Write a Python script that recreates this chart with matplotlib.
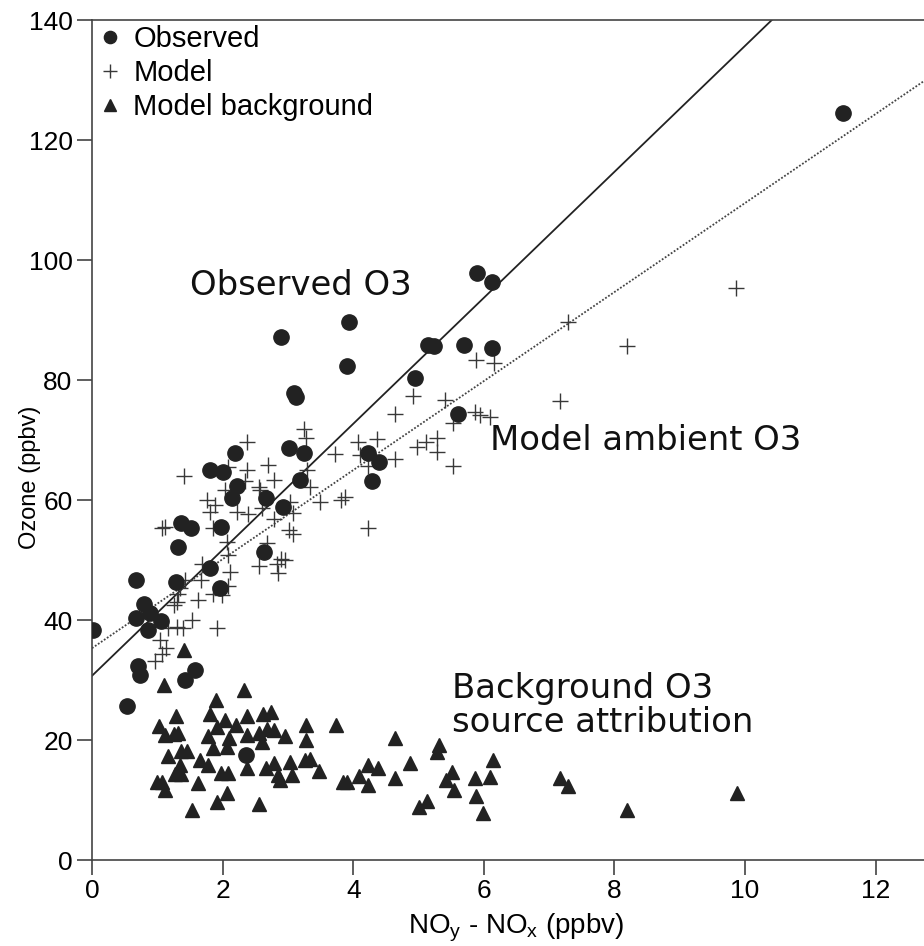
import matplotlib
matplotlib.use('Agg')
import matplotlib.pyplot as plt
import numpy as np

# Observed ozone vs NOy-NOx (ppbv)
obs_x = [0.02, 0.53, 0.68, 0.71, 0.74, 0.79, 0.89, 0.68, 1.06, 0.86,
         1.29, 1.31, 1.37, 1.52, 1.42, 1.58, 1.81, 1.81, 1.96, 1.98,
         2.01, 2.14, 2.19, 2.22, 2.36, 2.64, 2.66, 2.90, 2.93, 3.01,
         3.09, 3.13, 3.19, 3.24, 3.90, 3.94, 4.23, 4.28, 4.40, 4.95,
         5.15, 5.24, 5.61, 5.69, 5.90, 6.12, 6.12, 11.5]
obs_y = [38.4, 25.6, 46.7, 32.3, 30.9, 42.6, 41.1, 40.3, 39.8, 38.4,
         46.4, 52.1, 56.1, 55.3, 30.0, 31.7, 48.6, 65.0, 45.3, 55.5,
         64.6, 60.4, 67.9, 62.4, 17.5, 51.4, 60.4, 87.1, 58.8, 68.7,
         77.8, 77.2, 63.3, 67.8, 82.4, 89.7, 67.9, 63.2, 66.4, 80.4,
         85.8, 85.7, 74.3, 85.9, 97.8, 96.4, 85.4, 124.5]

# Model ambient ozone
mod_x = [0.97, 1.07, 1.14, 1.04, 1.17, 1.30, 1.40, 1.91, 1.53, 1.26,
         1.30, 1.32, 1.63, 1.86, 1.99, 2.09, 1.42, 1.35, 1.67, 2.11,
         1.68, 2.55, 2.83, 2.90, 2.96, 2.85, 2.09, 2.06, 2.68, 1.07,
         1.12, 1.86, 3.01, 3.08, 2.78, 1.81, 2.22, 2.39, 2.60, 3.08,
         1.88, 1.76, 3.03, 3.49, 3.82, 3.87, 2.03, 2.55, 2.57, 3.34,
         2.34, 2.78, 1.41, 2.09, 2.37, 2.69, 3.29, 4.23, 5.53, 4.64,
         3.72, 4.10, 5.28, 4.97, 2.37, 4.08, 4.37, 5.12, 5.28, 3.27,
         3.24, 5.53, 6.09, 5.94, 5.87, 4.64, 5.41, 4.91, 7.16, 5.88,
         6.15, 8.19, 7.29, 9.86, 4.23]
mod_y = [33.2, 34.4, 35.3, 36.7, 38.6, 38.9, 38.6, 38.6, 40.0, 42.5,
         43.0, 44.4, 43.3, 44.4, 44.2, 45.6, 46.7, 45.3, 46.7, 48.0,
         49.4, 49.0, 49.4, 50.1, 50.0, 47.8, 50.8, 53.0, 52.9, 55.3,
         55.5, 55.3, 55.0, 54.4, 56.9, 58.0, 58.0, 57.6, 58.6, 57.8,
         59.2, 60.0, 59.7, 59.7, 60.0, 60.5, 61.7, 62.2, 61.7, 62.2,
         63.2, 63.3, 64.0, 65.5, 65.0, 65.8, 65.0, 65.6, 65.7, 66.9,
         67.7, 67.5, 68.0, 68.9, 69.6, 69.7, 70.2, 69.7, 70.3, 70.4,
         71.9, 72.8, 73.9, 74.2, 74.7, 74.3, 76.7, 77.3, 76.5, 83.4,
         82.8, 85.6, 89.7, 95.4, 55.3]

# Model background ozone (source attribution)
bg_x = [1.41, 1.10, 2.32, 1.90, 1.29, 1.81, 2.04, 2.37, 2.62, 2.74,
        3.28, 3.73, 4.64, 1.02, 1.12, 1.25, 1.32, 1.91, 1.78, 2.21,
        2.10, 2.07, 2.37, 2.55, 2.60, 2.68, 2.78, 2.95, 3.28, 1.86,
        1.37, 1.46, 1.17, 1.35, 1.37, 1.27, 1.65, 1.78, 1.98, 2.09,
        2.37, 2.67, 2.78, 2.85, 2.88, 3.03, 3.06, 3.26, 3.34, 3.48,
        3.84, 3.90, 4.09, 4.23, 4.38, 4.23, 4.64, 4.87, 0.99, 1.07,
        1.12, 1.62, 2.06, 1.91, 1.53, 2.55, 5.32, 5.29, 6.14, 5.52,
        5.42, 5.87, 6.10, 5.54, 5.88, 5.13, 5.00, 5.99, 7.17, 7.29,
        8.19, 9.87]
bg_y = [35.0, 29.2, 28.3, 26.7, 24.0, 24.3, 23.4, 24.0, 24.3, 24.6,
        22.5, 22.5, 20.4, 22.3, 20.8, 21.0, 21.1, 22.2, 20.7, 22.5,
        20.4, 18.9, 20.8, 21.2, 19.7, 21.9, 21.7, 20.7, 20.0, 18.6,
        18.2, 18.2, 17.3, 15.8, 14.4, 14.4, 16.7, 15.8, 14.5, 14.5,
        15.3, 15.3, 16.1, 14.2, 13.3, 16.4, 14.2, 16.7, 16.8, 14.9,
        13.0, 13.0, 14.0, 15.8, 15.3, 12.5, 13.6, 16.1, 13.0, 13.0,
        11.7, 12.9, 11.1, 9.6, 8.4, 9.4, 19.2, 18.0, 16.7, 14.7,
        13.4, 13.7, 13.9, 11.6, 10.7, 9.8, 8.9, 7.8, 13.6, 12.3,
        8.4, 11.1]

# regression lines (intercept, slope)
fit_obs = (30.7, 10.5)
fit_mod = (35.3, 7.42)

plt.rcParams['font.family'] = ['Liberation Sans', 'DejaVu Sans']

fig = plt.figure(figsize=(9.24, 9.46), dpi=100)
ax = fig.add_axes([92 / 924, 86 / 946, 849 / 924, 840 / 946])

XMAX = 13.0
xx = np.array([0, XMAX])
ax.plot(xx, fit_obs[0] + fit_obs[1] * xx, color='#222222', lw=1.3, zorder=2)
ax.plot(xx, fit_mod[0] + fit_mod[1] * xx, color='#444444', lw=1.3,
        ls=(0, (1, 1)), zorder=2)

ax.plot(mod_x, mod_y, ls='none', marker='+', ms=12, mew=1.0,
        color='#383838', label='Model', zorder=3)
ax.plot(bg_x, bg_y, ls='none', marker='^', ms=10, color='#222222',
        mec='#222222', label='Model background', zorder=3)
ax.plot(obs_x, obs_y, ls='none', marker='o', ms=11, color='#222222',
        mec='#222222', label='Observed', zorder=4)

ax.set_xlim(0, XMAX)
ax.set_ylim(0, 140)
ax.set_xticks(np.arange(0, 13, 2))
ax.set_yticks(np.arange(0, 141, 20))
ax.tick_params(direction='out', length=11, width=1.1, color='#333333',
               labelsize=19, pad=3)
for s in ax.spines.values():
    s.set_color('#444444')
    s.set_linewidth(1.2)

ax.set_xlabel(r'NO$_\mathregular{y}$ - NO$_\mathregular{x}$ (ppbv)', fontsize=20)
ax.set_ylabel('Ozone (ppbv)', fontsize=17)
ax.xaxis.set_label_coords(0.5, -0.061)
ax.yaxis.set_label_coords(-0.060, 0.455)

h, l = ax.get_legend_handles_labels()
order = [2, 0, 1]
ax.legend([h[i] for i in order], [l[i] for i in order], loc='upper left',
          bbox_to_anchor=(-0.025, 1.025), frameon=False,
          prop={'family': 'Liberation Sans', 'size': 21},
          handletextpad=0.35, handlelength=0.9, labelspacing=0.2,
          markerscale=0.8)

ann = dict(family='DejaVu Sans', fontsize=24.4, color='#111111')
ax.text(1.5, 95.8, 'Observed O3', ha='left', va='center', **ann)
ax.text(6.1, 70.0, 'Model ambient O3', ha='left', va='center', **ann)
ax.text(5.52, 25.8, 'Background O3\nsource attribution', ha='left',
        va='center', linespacing=1.05, **ann)

fig.savefig('out.png', dpi=100)
